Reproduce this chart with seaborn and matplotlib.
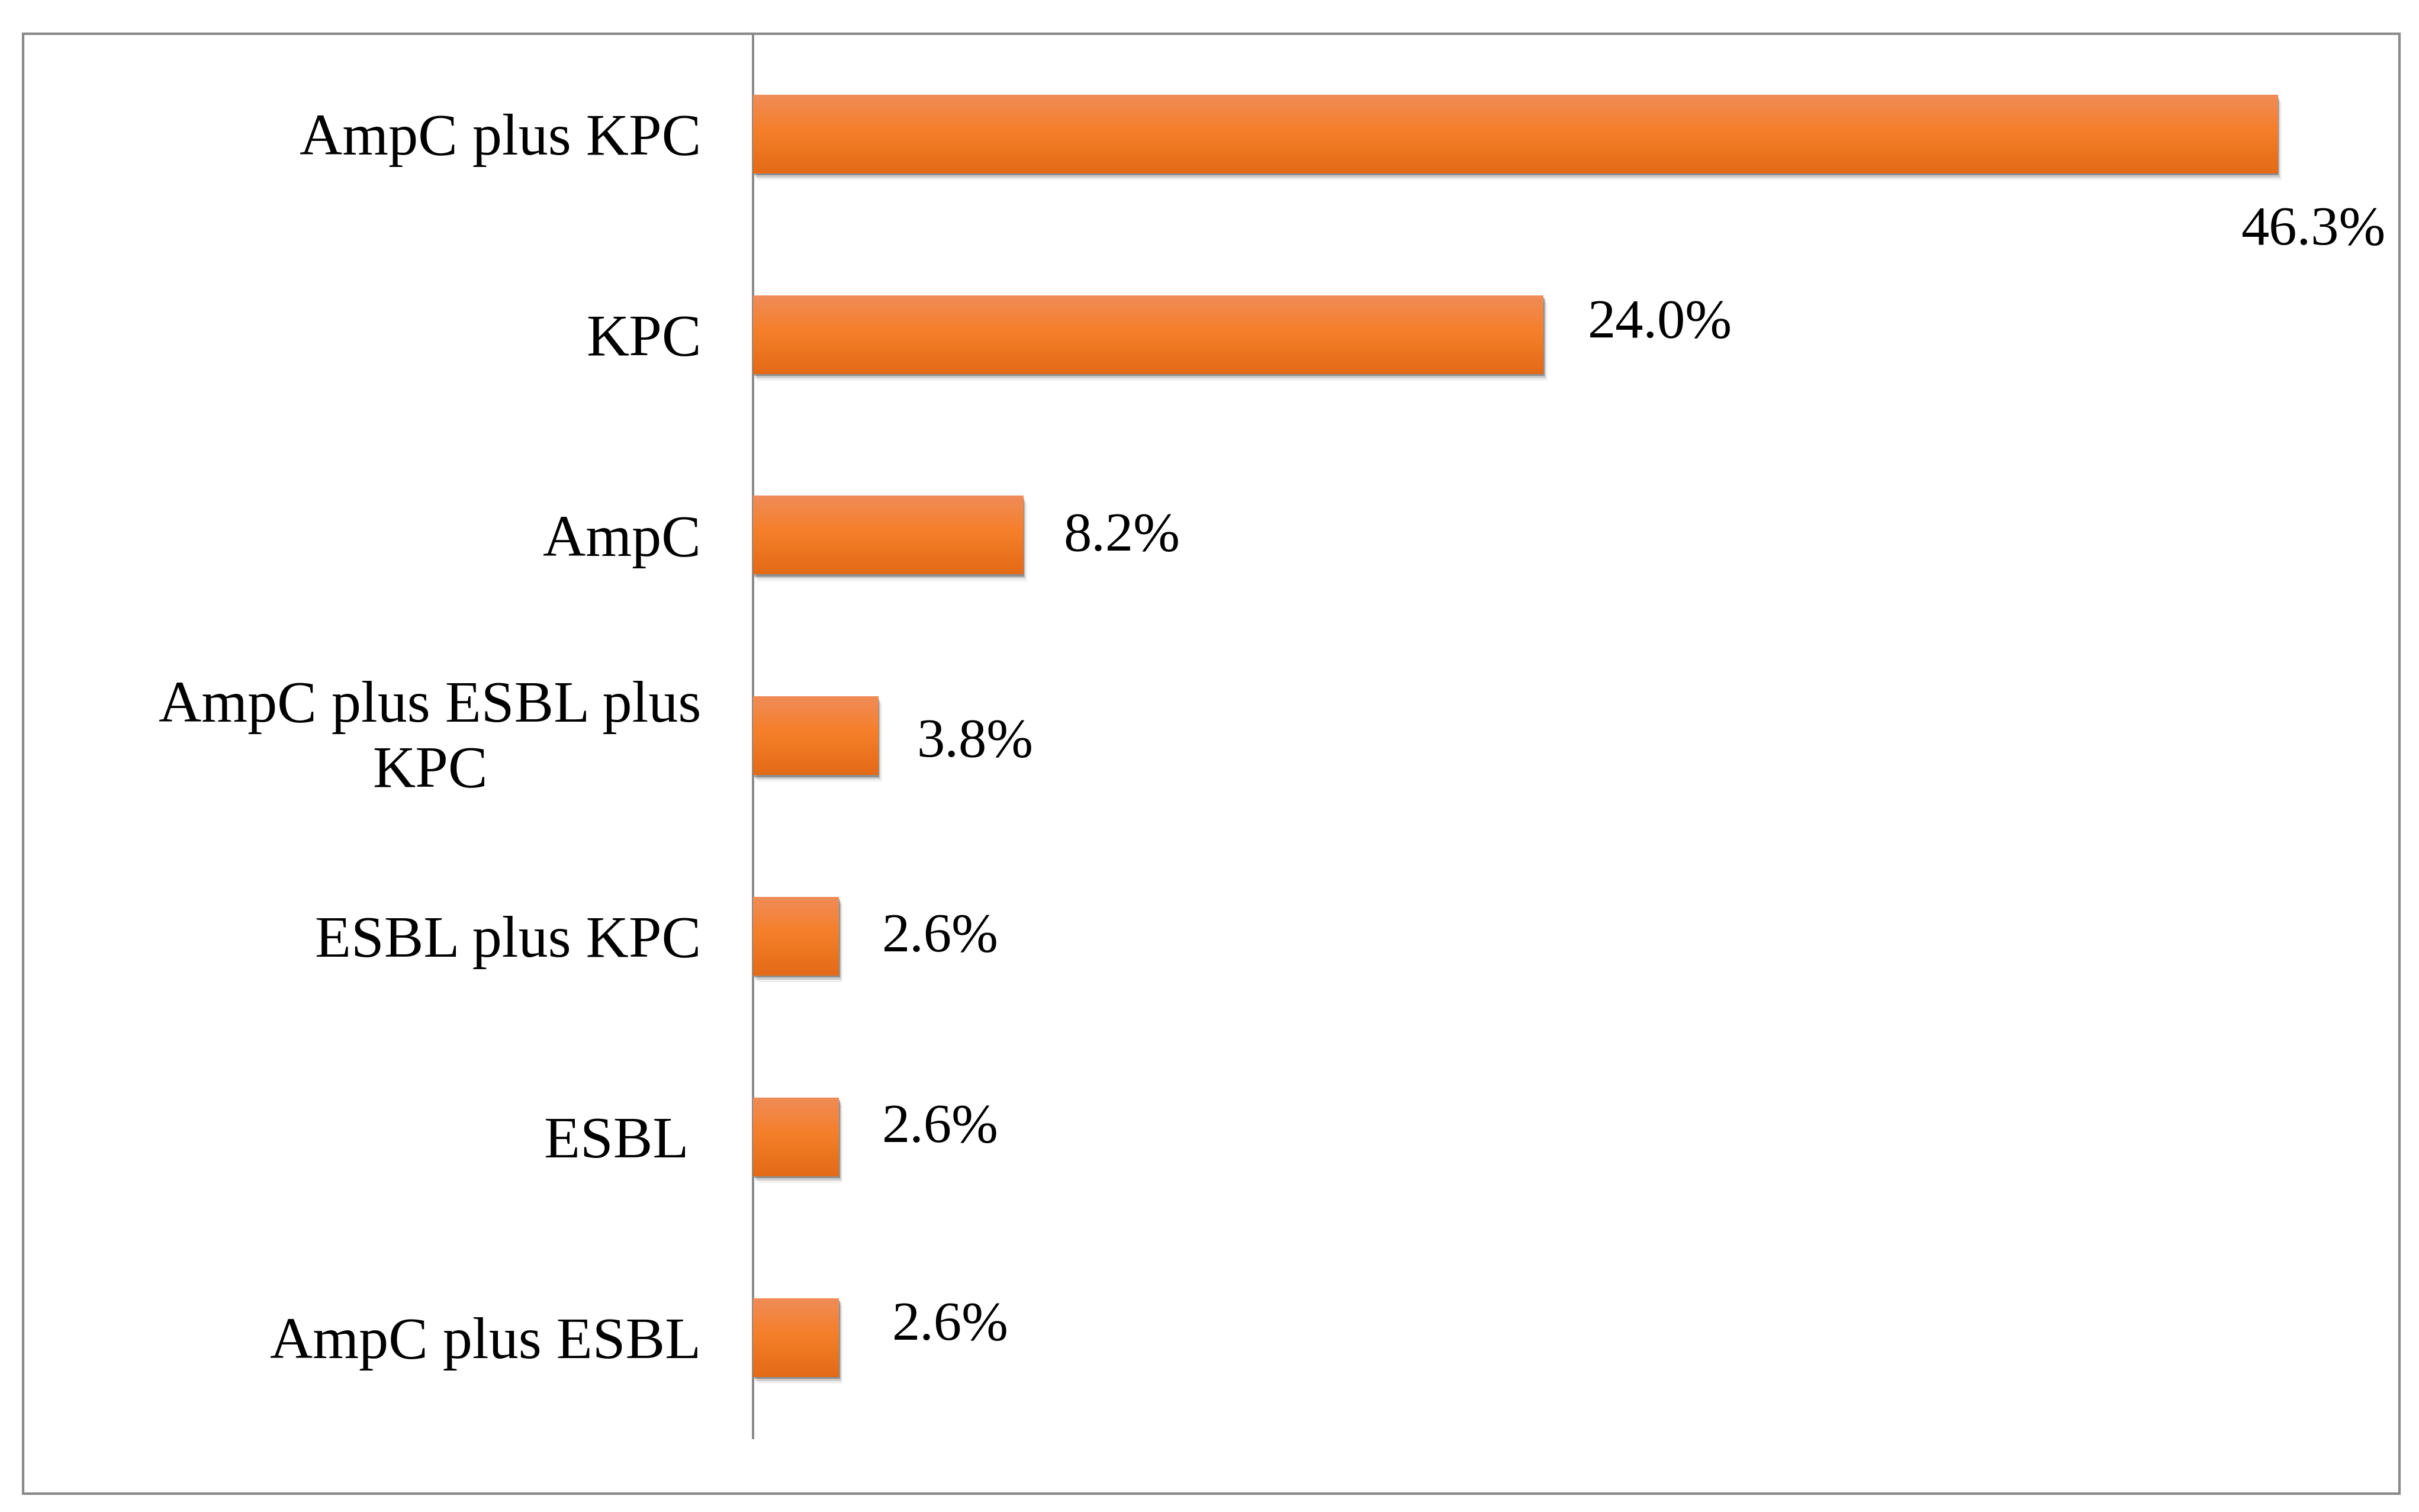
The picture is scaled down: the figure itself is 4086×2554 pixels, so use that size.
import numpy as np
import pandas as pd
import matplotlib
matplotlib.use("Agg")
import matplotlib.pyplot as plt
import seaborn as sns
from matplotlib.colors import LinearSegmentedColormap
from matplotlib.patches import Rectangle
from matplotlib.transforms import ScaledTranslation
import matplotlib.patheffects as pe

# ---- data ----
categories = ["AmpC plus KPC", "KPC", "AmpC", "AmpC plus ESBL plus\nKPC",
              "ESBL plus KPC", "ESBL ", "AmpC plus ESBL"]
percent = [46.3, 24.0, 8.2, 3.8, 2.6, 2.6, 2.6]
value_labels = ["46.3%", "24.0%", "8.2%", "3.8%", "2.6%", "2.6%", "2.6%"]

# label offsets (points) relative to bar end / centre -- styling only
label_offsets = [(-45, -118), (54, 13), (49, -2), (47, -9), (53, -2), (53, 10), (65, 14)]

sns.set_style("white")
plt.rcParams["font.family"] = ["Liberation Serif", "DejaVu Serif"]

fig = plt.figure(figsize=(40.87, 25.54), dpi=100)
fig.patch.set_facecolor("white")
ax = fig.add_axes([0.3112, 0.04898, 0.6805, 0.92857])

df = pd.DataFrame({"category": categories, "percent": percent})
sns.barplot(data=df, x="percent", y="category", orient="h", width=0.39,
            color="#F57F2A", saturation=1, ax=ax)

grad_cmap = LinearSegmentedColormap.from_list(
    "bar", [(0.0, "#F08C58"), (0.45, "#F57F2A"), (1.0, "#E36A16")])
grad = np.linspace(0, 1, 256).reshape(-1, 1)

for p in ax.patches:
    p.set_edgecolor("none")
    p.set_path_effects([
        pe.SimplePatchShadow(offset=(1.5, -2.5), shadow_rgbFace="k", alpha=0.30),
        pe.SimplePatchShadow(offset=(3, -5), shadow_rgbFace="k", alpha=0.15),
        pe.SimplePatchShadow(offset=(5, -8), shadow_rgbFace="k", alpha=0.06),
        pe.Normal()])
    x0 = p.get_x()
    w = p.get_width()
    y0 = p.get_y()
    h = p.get_height()
    ax.imshow(grad, cmap=grad_cmap, aspect="auto", origin="upper",
              extent=[x0, x0 + w, y0 + h, y0], zorder=3, interpolation="bilinear")

for i, (v, lab, off) in enumerate(zip(percent, value_labels, label_offsets)):
    ax.annotate(lab, xy=(v, i), xytext=off, textcoords="offset points",
                ha="left", va="center", fontsize=68, color="black",
                family=["Liberation Serif"], zorder=5)

ax.set_xlim(0, 50)
ax.set_ylim(6.5, -0.5)
ax.set_xlabel("")
ax.set_ylabel("")
ax.set_xticks([])
for s in ["top", "right", "bottom"]:
    ax.spines[s].set_visible(False)
ax.spines["left"].set_color("#878787")
ax.spines["left"].set_linewidth(2.8)
ax.tick_params(axis="y", length=0, pad=63, labelsize=72, labelcolor="black")
for lbl in ax.get_yticklabels():
    lbl.set_fontfamily(["Liberation Serif"])
    lbl.set_multialignment("center")
    lbl.set_linespacing(1.3)
    if "\n" in lbl.get_text():
        lbl.set_transform(lbl.get_transform() +
                          ScaledTranslation(0, 10 / 72, fig.dpi_scale_trans))

frame = Rectangle((0.00957, 0.01224), 0.98213, 0.96531, transform=fig.transFigure,
                  fill=False, edgecolor="#898989", linewidth=3, zorder=10)
fig.patches.append(frame)

fig.savefig("out.png", dpi=100, facecolor="white")
